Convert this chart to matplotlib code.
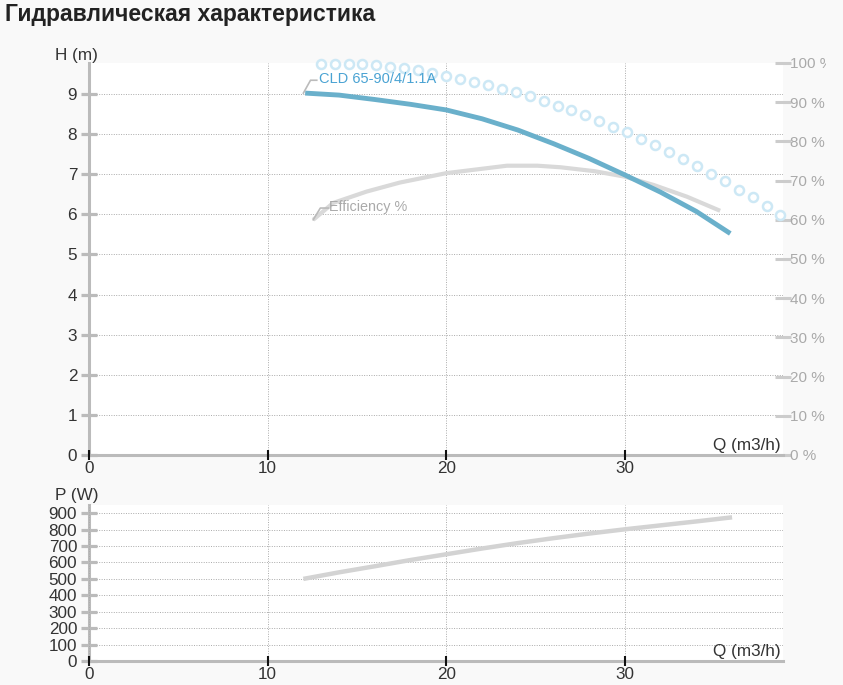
import matplotlib
matplotlib.use("Agg")
import matplotlib.pyplot as plt
from matplotlib.transforms import Bbox, TransformedBbox

plt.rcParams['font.family'] = ['Liberation Sans', 'DejaVu Sans']

# --- данные ---
q_head = [12.1, 14, 16, 18, 20, 22, 24, 26, 28, 30, 32, 34, 35.9]
head = [9.02, 8.97, 8.86, 8.74, 8.60, 8.38, 8.10, 7.76, 7.39, 6.98, 6.55, 6.07, 5.52]

q_eff = [12.55, 13.67, 15.54, 17.4, 20.0, 23.4, 25.1, 26.4, 28.3, 30.0, 31.6, 33.47, 35.33]
eff = [60.0, 64.3, 67.2, 69.5, 71.9, 73.8, 73.8, 73.4, 72.4, 71.0, 68.9, 65.9, 62.3]

q_dots = [12.97, 13.75, 14.53, 15.31, 16.09, 16.87, 17.65, 18.43, 19.21, 19.99,
          20.77, 21.55, 22.33, 23.11, 23.89, 24.67, 25.45, 26.23, 27.01, 27.79,
          28.57, 29.35, 30.13, 30.91, 31.69, 32.47, 33.25, 34.03, 34.81, 35.59,
          36.37, 37.15, 37.93, 38.71]
dots = [99.8, 99.8, 99.8, 99.8, 99.4, 99.1, 98.8, 98.3, 97.5, 96.8,
        96.0, 95.1, 94.4, 93.4, 92.5, 91.7, 90.3, 89.0, 88.1, 86.8,
        85.2, 83.8, 82.3, 80.7, 79.1, 77.2, 75.6, 73.8, 71.7, 69.9,
        67.6, 65.8, 63.6, 61.3]

q_power = [12, 14, 16, 18, 20, 22, 24, 26, 28, 30, 32, 34, 36]
power = [500, 540, 577, 615, 650, 685, 718, 748, 776, 802, 826, 850, 875]

x_ticks = [0, 10, 20, 30]
h_ticks = list(range(0, 10))
p_ticks = list(range(0, 1000, 100))
eff_ticks = list(range(0, 110, 10))

W, H = 843, 685
fig = plt.figure(figsize=(W / 100, H / 100), dpi=100, facecolor='#f9f9f9')

def px_rect(x0, y0, x1, y1):
    return [x0 / W, 1 - y1 / H, (x1 - x0) / W, (y1 - y0) / H]

txt = '#333333'
spine_c = '#bbbbbb'
grid_c = '#aaaaaa'
dotted = (0, (1, 1.5))

ax_eff = fig.add_axes(px_rect(89, 63, 783, 455))
ax = ax_eff.twinx()
# ось напора поверх, ось КПД под ней
ax_eff.set_zorder(1)
ax.set_zorder(2)
ax.patch.set_visible(False)
ax_eff.set_facecolor('white')
ax.xaxis.set_visible(True)

ax_p = fig.add_axes(px_rect(89, 505, 783, 661))
ax_p.set_facecolor('white')

for a in (ax, ax_eff, ax_p):
    for s in a.spines.values():
        s.set_visible(False)

ax.yaxis.tick_left()
ax.yaxis.set_label_position('left')
ax_eff.yaxis.tick_right()

def style_main(a, ylim, yticks):
    a.set_xlim(0, 38.85)
    a.set_ylim(*ylim)
    a.set_xticks(x_ticks)
    a.set_yticks(yticks)
    for side in ('left', 'bottom'):
        a.spines[side].set_visible(True)
        a.spines[side].set_color(spine_c)
        a.spines[side].set_linewidth(2.2)
        a.spines[side].set_zorder(0.2)
    a.tick_params(axis='y', direction='inout', length=12, width=2.3, color=spine_c,
                  labelsize=12.3, labelcolor=txt, pad=2.5)
    a.tick_params(axis='x', direction='inout', length=6.5, width=1.5, colors='#111111',
                  labelsize=12.3, labelcolor=txt, pad=1)
    a.xaxis.set_zorder(2.6)
    a.yaxis.set_zorder(2.55)

style_main(ax, (0, 9.77), h_ticks)
style_main(ax_p, (0, 950), p_ticks)
ax_p.grid(True, linestyle=dotted, color=grid_c, linewidth=0.7)

# сетка верхнего графика рисуется на задней оси, чтобы быть под кривыми
ax_eff.set_xlim(0, 38.85)
ax_eff.set_xticks(x_ticks)
ax_eff.tick_params(axis='x', length=0, labelbottom=False)
ax_eff.grid(True, axis='x', linestyle=dotted, color=grid_c, linewidth=0.7)
for h in h_ticks[1:]:
    ax_eff.axhline(h / 9.77 * 100, linestyle=dotted, color=grid_c, linewidth=0.7,
                   zorder=0.5)

# правая ось, %
ax_eff.set_ylim(0, 100)
ax_eff.set_yticks(eff_ticks)
ax_eff.set_yticklabels([f'{v} %' for v in eff_ticks])
ax_eff.tick_params(axis='y', direction='inout', length=11.5, width=2.2, color='#cccccc',
                   labelsize=11, labelcolor='#aaaaaa', pad=-1)
clip = TransformedBbox(Bbox([[0, 0], [826 / W, 1]]), fig.transFigure)
for lab in ax_eff.get_yticklabels():
    lab.set_clip_on(True)
    lab.set_clip_box(clip)

# кривые
ax_eff.plot(q_dots, dots, linestyle='none', marker='o', markersize=6.5,
            markerfacecolor='white', markeredgecolor='#cde8f5', markeredgewidth=1.8,
            clip_on=False, zorder=3)
ax_eff.plot(q_eff, eff, color='#d9d9d9', linewidth=3, solid_capstyle='butt', zorder=4)
ax.plot(q_head, head, color='#6ab0cb', linewidth=3.5, solid_capstyle='butt', zorder=5)
ax_p.plot(q_power, power, color='#d3d3d3', linewidth=3.2, solid_capstyle='butt', zorder=3)

# подписи кривых с выносками
ax.plot([q_head[0] - 0.1, q_head[0] + 0.3, q_head[0] + 0.65],
        [head[0], head[0] + 0.32, head[0] + 0.32], color='#bbbbbb', linewidth=1.2,
        zorder=6)
ax.text(q_head[0] + 0.75, head[0] + 0.34, 'CLD 65-90/4/1.1A', color='#4aa3d3',
        fontsize=10.5, va='center', ha='left', zorder=7)
ax_eff.plot([q_eff[0], q_eff[0] + 0.4, q_eff[0] + 0.85],
            [eff[0], eff[0] + 3.0, eff[0] + 3.0], color='#bbbbbb', linewidth=1.2,
            zorder=6)
ax_eff.text(q_eff[0] + 0.9, eff[0] + 3.3, 'Efficiency %', color='#aaaaaa',
            fontsize=10.4, va='center', ha='left', zorder=7)

# подписи осей
ax.text(-0.049, 1.02, 'H (m)', transform=ax.transAxes, fontsize=12.3, color=txt,
        ha='left', va='center')
ax.text(0.996, 0.004, 'Q (m3/h)', transform=ax.transAxes, fontsize=12.3, color=txt,
        ha='right', va='bottom')
ax_p.text(-0.049, 1.064, 'P (W)', transform=ax_p.transAxes, fontsize=12.3, color=txt,
          ha='left', va='center')
ax_p.text(0.996, 0.01, 'Q (m3/h)', transform=ax_p.transAxes, fontsize=12.3, color=txt,
          ha='right', va='bottom')

fig.text(5 / W, 1 - 15 / H, 'Гидравлическая характеристика', fontsize=16.5,
         fontweight='bold', color='#222222', ha='left', va='center')

fig.savefig('out.png', dpi=100, facecolor=fig.get_facecolor())
